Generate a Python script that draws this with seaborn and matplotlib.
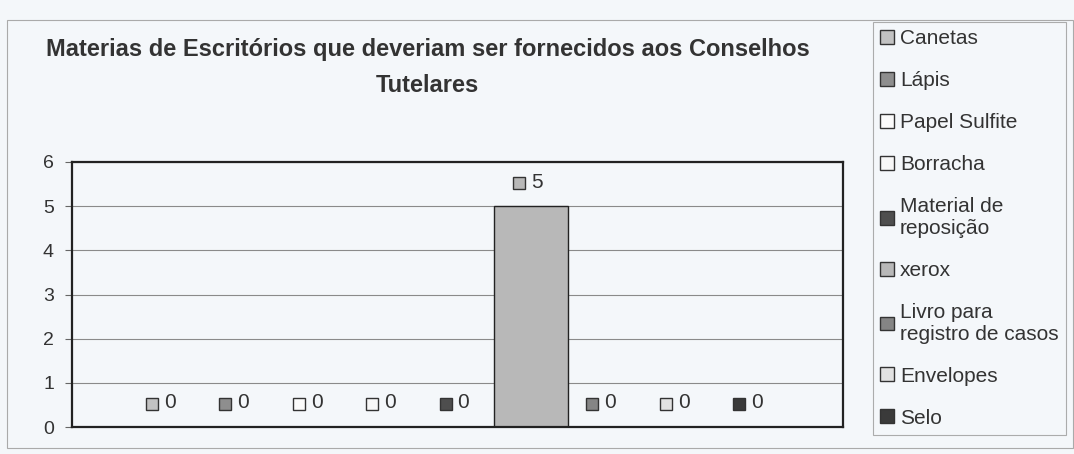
import matplotlib
matplotlib.use("Agg")
import matplotlib.pyplot as plt
import matplotlib.transforms as mtransforms
from matplotlib.patches import Rectangle, Patch
import seaborn as sns
import pandas as pd

# dados do gráfico
materiais = ["Canetas", "Lápis", "Papel Sulfite", "Borracha", "Material de reposição",
             "xerox", "Livro para registro de casos", "Envelopes", "Selo"]
rotulos_legenda = ["Canetas", "Lápis", "Papel Sulfite", "Borracha", "Material de\nreposição",
                   "xerox", "Livro para\nregistro de casos", "Envelopes", "Selo"]
quantidades = [0, 0, 0, 0, 0, 5, 0, 0, 0]
cores = ["#c2c2c2", "#8e8e8e", "#fbfbfb", "#f7f7f7", "#4e4e4e",
         "#b8b8b8", "#858585", "#e2e2e2", "#3a3a3a"]
y_ticks = [0, 1, 2, 3, 4, 5, 6]
titulo = "Materias de Escritórios que deveriam ser fornecidos aos Conselhos\nTutelares"

fundo = "#f4f7fa"

sns.set_style("white")
plt.rcParams["font.family"] = ["Liberation Sans", "DejaVu Sans"]

df = pd.DataFrame({"grupo": [""] * len(materiais), "material": materiais, "quantidade": quantidades})

fig = plt.figure(figsize=(10.74, 4.54), dpi=100, facecolor=fundo)
ax = fig.add_axes([72 / 1074, 1 - 427 / 454, (843 - 72) / 1074, (427 - 162) / 454])
ax.set_facecolor(fundo)

sns.barplot(data=df, x="grupo", y="quantidade", hue="material", hue_order=materiais,
            palette=cores, width=0.857, dodge=True, edgecolor="#222222", linewidth=1.0,
            saturation=1, legend=False, ax=ax)

ax.set_xlim(-0.5, 0.5)
ax.set_ylim(0, 6)
ax.set_yticks(y_ticks)
ax.set_yticklabels([str(t) for t in y_ticks], fontsize=14, color="#333333")
ax.set_xticks([])
ax.set_xlabel("")
ax.set_ylabel("")
ax.tick_params(axis="y", length=5, width=0.8, color="#666666", pad=8, left=True)
ax.yaxis.grid(True, color="#8a8a8a", linewidth=0.8)
ax.set_axisbelow(True)
for s in ax.spines.values():
    s.set_visible(True)
    s.set_color("#222222")
    s.set_linewidth(1.6)

# rótulos de dados: quadradinho da série + valor
for cont, val, cor in zip(ax.containers, quantidades, cores):
    bar = cont[0]
    x = bar.get_x() + bar.get_width() / 2
    h = bar.get_height()
    t_marc = mtransforms.offset_copy(ax.transData, fig=fig, x=-12, y=23, units="dots")
    t_txt = mtransforms.offset_copy(ax.transData, fig=fig, x=0, y=24, units="dots")
    ax.plot([x], [h], marker="s", ms=8.5, mfc=cor, mec="#333333", mew=1.0,
            transform=t_marc, clip_on=False)
    ax.text(x, h, str(val), transform=t_txt, ha="left", va="center", fontsize=15, color="#333333")

fig.text(0.398, 0.851, titulo, ha="center", va="center", fontsize=17, fontweight="bold",
         color="#333333", linespacing=1.75, multialignment="center")

# legenda
handles = [Patch(facecolor=c, edgecolor="#333333", linewidth=1.0) for c in cores]
leg = fig.legend(handles, rotulos_legenda, loc="upper left", bbox_to_anchor=(873 / 1074, 1 - 22 / 454),
                 fontsize=15, frameon=True, fancybox=False, edgecolor="#999999", facecolor=fundo,
                 handlelength=0.65, handleheight=0.65, handletextpad=0.3, labelspacing=1.1,
                 borderpad=0.35, borderaxespad=0)
leg.get_frame().set_linewidth(0.8)
for t in leg.get_texts():
    t.set_color("#333333")

# moldura externa do gráfico
fig.add_artist(Rectangle((7 / 1074, 1 - 448 / 454), 1066 / 1074, 428 / 454,
                         transform=fig.transFigure, fill=False, edgecolor="#aaaaaa", linewidth=0.8))

fig.savefig("out.png", dpi=100, facecolor=fundo)
